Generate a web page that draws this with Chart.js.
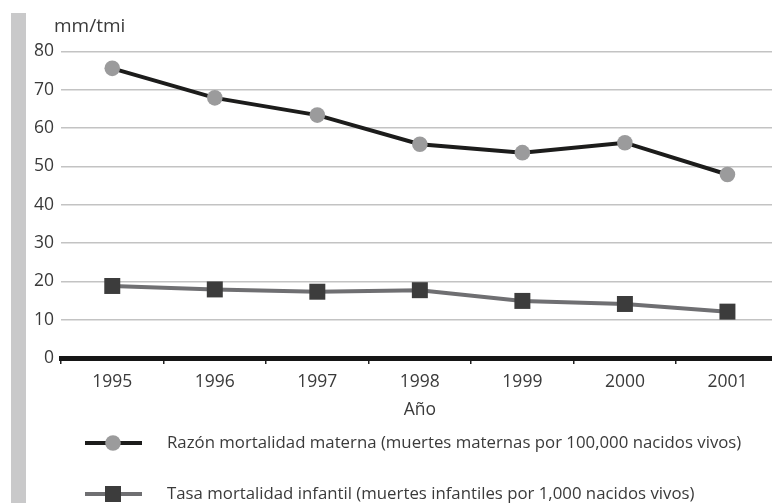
<!DOCTYPE html>
<html>
<head>
<meta charset="utf-8">
<script src="https://cdn.jsdelivr.net/npm/chart.js@4.4.1/dist/chart.umd.min.js"></script>
<style>
  html, body { margin: 0; padding: 0; background: #fff; overflow: hidden; }
  #wrap { width: 772px; height: 503px; overflow: hidden; }
  canvas { display: block; }
</style>
</head>
<body>
<div id="wrap"><canvas id="c" width="790" height="503"></canvas></div>
<script>
const years = ['1995', '1996', '1997', '1998', '1999', '2000', '2001'];
const maternalRatio = [75.6, 67.9, 63.4, 55.8, 53.6, 56.2, 47.9];
const infantRate = [18.8, 17.9, 17.3, 17.7, 14.9, 14.1, 12.1];
const yTicks = [0, 10, 20, 30, 40, 50, 60, 70, 80];
const yUnitLabel = 'mm/tmi';
const xTitle = 'Año';
const legendLabels = [
  'Razón mortalidad materna (muertes maternas por 100,000 nacidos vivos)',
  'Tasa mortalidad infantil (muertes infantiles por 1,000 nacidos vivos)'
];

const FONT = "'Open Sans', 'DejaVu Sans', sans-serif";
const TEXT = '#3a3a3a';

const decor = {
  id: 'decor',
  beforeDraw(chart) {
    const ctx = chart.ctx;
    ctx.save();
    ctx.fillStyle = '#c9c9ca';
    ctx.fillRect(11, 13, 15, 503 - 13);
    ctx.restore();
  },
  afterDraw(chart) {
    const ctx = chart.ctx;
    ctx.save();
    ctx.fillStyle = TEXT;
    ctx.font = '19px ' + FONT;
    ctx.textBaseline = 'middle';
    ctx.textAlign = 'left';
    ctx.fillText(yUnitLabel, 54, 27);

    // legend
    const rows = [443, 494];
    chart.data.datasets.forEach((ds, i) => {
      const y = rows[i];
      ctx.strokeStyle = ds.borderColor;
      ctx.lineWidth = ds.borderWidth;
      ctx.beginPath();
      ctx.moveTo(85, y);
      ctx.lineTo(142, y);
      ctx.stroke();
      ctx.fillStyle = ds.pointBackgroundColor;
      if (ds.pointStyle === 'circle') {
        ctx.beginPath();
        ctx.arc(113, y, ds.pointRadius, 0, Math.PI * 2);
        ctx.fill();
      } else {
        const s = ds.pointRadius * Math.SQRT1_2;
        ctx.fillRect(113 - s, y - s, 2 * s, 2 * s);
      }
      ctx.fillStyle = TEXT;
      ctx.font = '16.8px ' + FONT;
      ctx.textAlign = 'left';
      ctx.textBaseline = 'middle';
      ctx.fillText(legendLabels[i], 167, y);
    });
    ctx.restore();
  }
};

new Chart(document.getElementById('c'), {
  type: 'line',
  data: {
    labels: years,
    datasets: [
      {
        label: legendLabels[0],
        data: maternalRatio,
        borderColor: '#1c1c1b',
        borderWidth: 4,
        pointStyle: 'circle',
        pointRadius: 7.8,
        pointBackgroundColor: '#9b9b9c',
        pointBorderWidth: 0,
        pointBorderColor: '#9b9b9c',
        tension: 0,
        clip: false
      },
      {
        label: legendLabels[1],
        data: infantRate,
        borderColor: '#6f6f72',
        borderWidth: 4,
        pointStyle: 'rect',
        pointRadius: 11.3,
        pointBackgroundColor: '#3c3c3c',
        pointBorderWidth: 0,
        pointBorderColor: '#3c3c3c',
        tension: 0,
        clip: false
      }
    ]
  },
  options: {
    responsive: false,
    animation: false,
    devicePixelRatio: 1,
    layout: { padding: { left: 0, top: 51.5, right: 5, bottom: 78 } },
    plugins: {
      legend: { display: false },
      tooltip: { enabled: false }
    },
    scales: {
      x: {
        type: 'category',
        offset: true,
        afterFit(scale) { scale.height = 67; },
        grid: {
          display: true,
          drawOnChartArea: false,
          drawTicks: true,
          tickLength: 6,
          offset: true,
          color: '#222',
          lineWidth: 1.5
        },
        border: { display: true, color: '#161616', width: 5 },
        ticks: {
          color: TEXT,
          font: { family: FONT, size: 17.5 },
          padding: 8
        },
        title: {
          display: true,
          text: xTitle,
          color: TEXT,
          font: { family: FONT, size: 17.5 }
        }
      },
      y: {
        min: 0,
        max: 80,
        afterFit(scale) { scale.width = 61; },
        afterBuildTicks(scale) { scale.ticks = yTicks.map(v => ({ value: v })); },
        grid: {
          color: '#c3c3c3',
          lineWidth: 1.5,
          drawTicks: false
        },
        border: { display: false },
        ticks: {
          color: TEXT,
          font: { family: FONT, size: 17.5 },
          padding: 7
        }
      }
    }
  },
  plugins: [decor]
});
</script>
</body>
</html>
